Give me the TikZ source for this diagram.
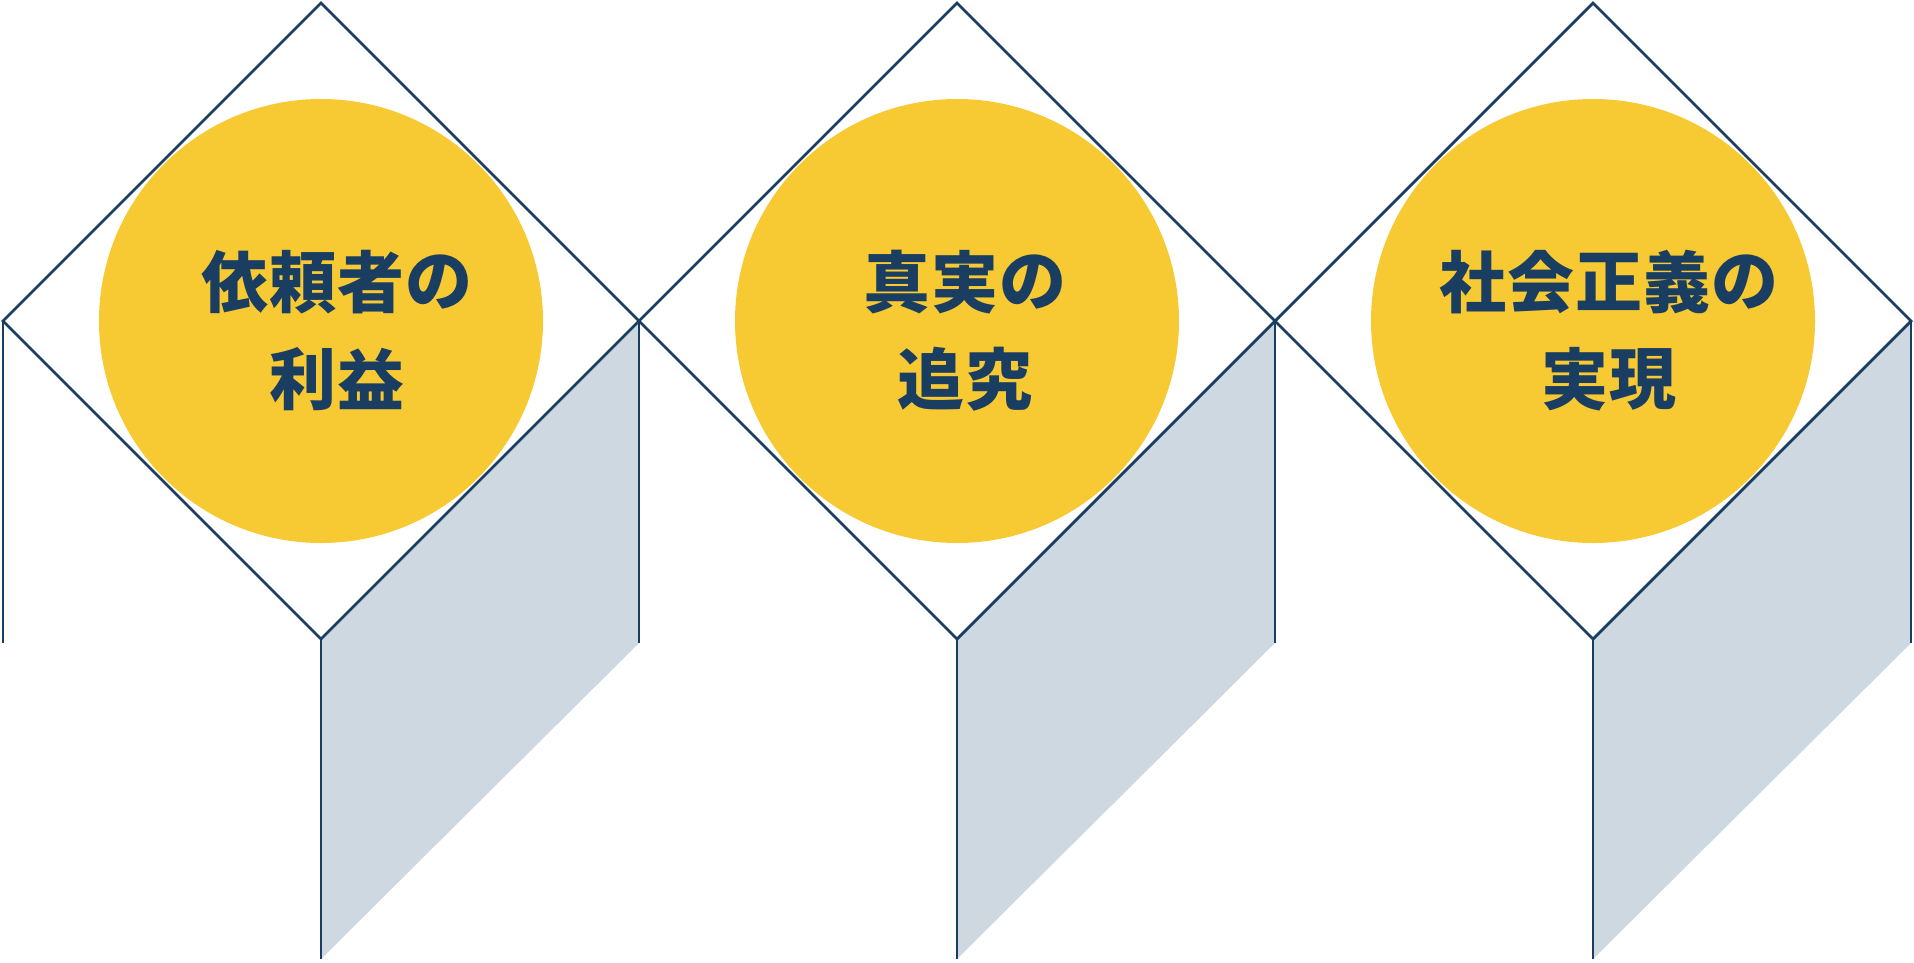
\documentclass[tikz,border=0pt]{standalone}
\usepackage{fontspec}
\newfontfamily\cjk{Noto Sans CJK JP}
\definecolor{navy}{HTML}{1A3D62}
\definecolor{gold}{HTML}{F7C932}
\definecolor{pale}{HTML}{CDD8E0}
\tikzset{
  edge/.style={draw=navy, line width=2.8pt, line cap=butt, line join=miter},
  side/.style={fill=pale, draw=none},
  disc/.style={circle, fill=gold, draw=none, minimum size=444pt, inner sep=0pt},
  caption/.style={text=navy, inner sep=0pt, anchor=center, font={\fontsize{67}{80}\selectfont\cjk\bfseries}}
}
% one row of glyphs, each placed on a fixed pitch: name, centre x, y, count, glyphs
\newcommand\putrow[5]{%
  \foreach \ch [count=\k] in {#5} {%
    \pgfmathsetmacro{\px}{#2+(\k-(#4+1)/2)*68}%
    \node[caption] (#1-\k) at (\px pt,-#3 pt) {\ch};
  }%
}
\begin{document}
\begin{tikzpicture}[x=1pt,y=-1pt]
\useasboundingbox (0,0) rectangle (1914,962);
\foreach \i in {0,1,2} {
  \pgfmathsetmacro{\cx}{321+636*\i}
  \coordinate (t\i) at (\cx,3);
  \coordinate (l\i) at (\cx-318,321);
  \coordinate (r\i) at (\cx+318,321);
  \coordinate (b\i) at (\cx,639);
  \coordinate (lb\i) at (\cx-318,643);
  \coordinate (rb\i) at (\cx+318,643);
  \coordinate (bb\i) at (\cx,959);
  \fill[side] (b\i) -- (r\i) -- (rb\i) -- (bb\i) -- cycle;
  \draw[edge] (t\i) -- (r\i) -- (b\i) -- (l\i) -- cycle;
  \draw[edge] (l\i) -- (lb\i);
  \draw[edge] (r\i) -- (rb\i);
  \draw[edge] (b\i) -- (bb\i);
  \node[disc] (c\i) at (\cx,321) {};
}
\putrow{a0}{337}{282}{4}{依,頼,者,の}
\putrow{b0}{337}{379}{2}{利,益}
\putrow{a1}{965}{282}{3}{真,実,の}
\putrow{b1}{965}{379}{2}{追,究}
\putrow{a2}{1609}{282}{5}{社,会,正,義,の}
\putrow{b2}{1609}{379}{2}{実,現}
\end{tikzpicture}
\end{document}
